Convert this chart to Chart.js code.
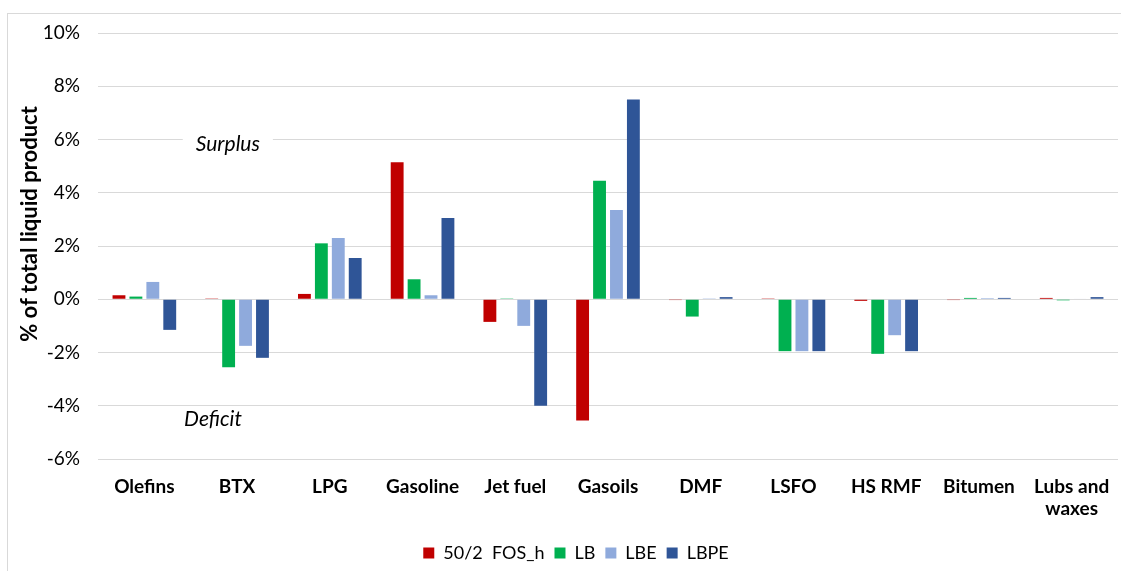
<!DOCTYPE html>
<html>
<head>
<meta charset="utf-8">
<script src="https://cdn.jsdelivr.net/npm/chart.js@4/dist/chart.umd.min.js"></script>
<style>
  html, body { margin: 0; padding: 0; background: #fff; }
  .wrap {
    position: absolute; left: 7px; top: 13px;
    width: 1120px; height: 570px;
    border: 1px solid #d9d9d9; box-sizing: border-box;
  }
  canvas { display: block; }
</style>
</head>
<body>
<div class="wrap"><canvas id="productChart"></canvas></div>
<script>
// ===================================
// 数据
// ===================================
const categories = ['Olefins', 'BTX', 'LPG', 'Gasoline', 'Jet fuel', 'Gasoils', 'DMF', 'LSFO', 'HS RMF', 'Bitumen', ['Lubs and', 'waxes']];
const seriesNames = ['50/2  FOS_h', 'LB', 'LBE', 'LBPE'];
const fosH = [0.15, 0.03, 0.2, 5.15, -0.85, -4.55, -0.03, 0.03, -0.06, -0.03, 0.05];
const lb   = [0.1, -2.55, 2.1, 0.75, 0.03, 4.45, -0.65, -1.95, -2.05, 0.05, -0.04];
const lbe  = [0.65, -1.75, 2.3, 0.15, -1.0, 3.35, 0.03, -1.95, -1.35, 0.04, 0.02];
const lbpe = [-1.15, -2.2, 1.55, 3.05, -4.0, 7.5, 0.08, -1.95, -1.95, 0.05, 0.08];
const seriesColors = ['#C00000', '#00B050', '#8FAADC', '#2F5597'];
const yTicks = [-6, -4, -2, 0, 2, 4, 6, 8, 10];
const yTitle = '% of total liquid product';

// 注释文字 (category index, value)
const notes = [
  {text: 'Surplus', x: 0.9, y: 5.83},
  {text: 'Deficit', x: 0.74, y: -4.5}
];

const FONT = 'Lato, "Open Sans", sans-serif';

// ===================================
// 注释 + y 轴标题插件
// ===================================
const notesPlugin = {
  id: 'notes',
  beforeDatasetsDraw(chart) {
    const {ctx, scales, chartArea} = chart;
    ctx.save();
    ctx.font = 'italic 21px ' + FONT;
    ctx.textAlign = 'center';
    ctx.textBaseline = 'middle';
    notes.forEach(n => {
      const px = scales.x.getPixelForValue(n.x);
      const py = scales.y.getPixelForValue(n.y);
      const w = ctx.measureText(n.text).width + 26;
      ctx.fillStyle = '#fff';
      ctx.fillRect(px - w / 2, py - 13, w, 26);
      ctx.fillStyle = '#000';
      ctx.fillText(n.text, px, py);
    });
    // y 轴标题（略高于中心，与原图一致）
    ctx.translate(chartArea.left - 68, (chartArea.top + chartArea.bottom) / 2 - 22);
    ctx.rotate(-Math.PI / 2);
    ctx.font = 'bold 22px ' + FONT;
    ctx.fillText(yTitle, 0, 0);
    ctx.restore();
  }
};

function initProductChart(ctx) {
  const values = [fosH, lb, lbe, lbpe];
  new Chart(ctx, {
    type: 'bar',
    data: {
      labels: categories,
      datasets: seriesNames.map((name, i) => ({
        label: name,
        data: values[i],
        backgroundColor: seriesColors[i],
        categoryPercentage: 0.73,
        barPercentage: 0.76
      }))
    },
    options: {
      responsive: true,
      maintainAspectRatio: false,
      animation: false,
      // 左侧多留 26px 让图例居中位置右移，y 轴宽度相应减少
      layout: { padding: { top: 0, right: 8, left: 26, bottom: 10 } },
      plugins: {
        legend: {
          position: 'bottom',
          labels: {
            color: '#000',
            font: { family: FONT, size: 18 },
            boxWidth: 11,
            boxHeight: 11,
            padding: 10
          }
        },
        tooltip: { enabled: false }
      },
      scales: {
        y: {
          min: -6,
          max: 10,
          afterBuildTicks: s => { s.ticks = yTicks.map(v => ({value: v})); },
          afterFit: s => { s.width = 64; s.paddingTop = 19; },
          grid: { color: '#d9d9d9', drawTicks: false },
          border: { display: false },
          ticks: {
            color: '#000',
            padding: 18,
            font: { family: FONT, size: 19 },
            callback: v => v + '%'
          }
        },
        x: {
          afterFit: s => { s.height = 75; },
          grid: { display: false, drawTicks: false },
          border: { display: false },
          ticks: {
            color: '#000',
            padding: 16,
            maxRotation: 0,
            autoSkip: false,
            font: { family: FONT, size: 19, weight: 'bold' }
          }
        }
      }
    },
    plugins: [notesPlugin]
  });
}

document.addEventListener('DOMContentLoaded', function() {
  initProductChart(document.getElementById('productChart'));
});
</script>
</body>
</html>
